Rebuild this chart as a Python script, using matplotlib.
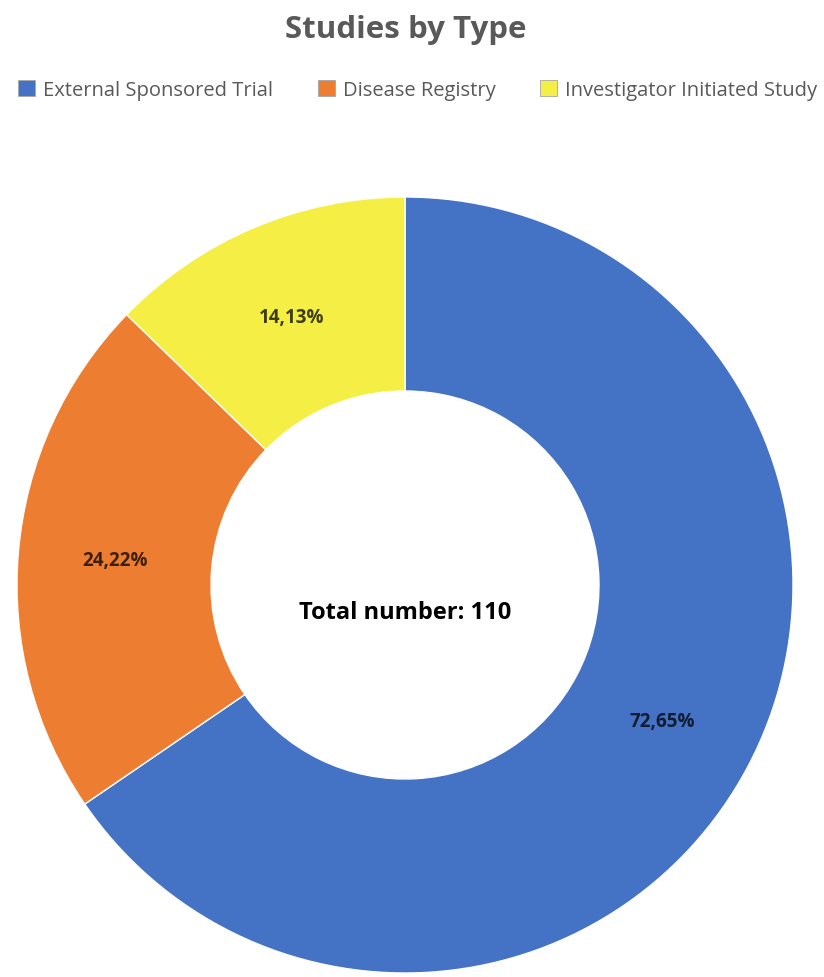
import matplotlib
matplotlib.use('Agg')
import matplotlib.pyplot as plt
from matplotlib.patches import Patch
import numpy as np

# data
categories = ['External Sponsored Trial', 'Disease Registry', 'Investigator Initiated Study']
values = [72.65, 24.22, 14.13]
labels = ['72,65%', '24,22%', '14,13%']
colors = ['#4472C4', '#ED7D31', '#F5EE45']
total_text = 'Total number: 110'

fig = plt.figure(figsize=(8.24, 9.78), dpi=100)

# pie axes: centre ~(405, 586) px, radius ~388 px
W, H = 824, 978
ax = fig.add_axes([17 / W, (H - 974) / H, 776 / W, 776 / H])

wedges, texts = ax.pie(values, colors=colors, startangle=90, counterclock=False,
                       radius=1, wedgeprops=dict(width=0.5, edgecolor='white', linewidth=1))
ax.set_xlim(-1, 1)
ax.set_ylim(-1, 1)
ax.set_aspect('equal')
ax.axis('off')

# percentage labels in the middle of the ring
for w, lab in zip(wedges, labels):
    ang = np.deg2rad((w.theta1 + w.theta2) / 2)
    ax.text(0.75 * np.cos(ang), 0.75 * np.sin(ang), lab, ha='center', va='center',
            fontsize=13.5, fontweight='bold', family='Open Sans', color='black', alpha=0.75)

ax.text(0, -0.07, total_text, ha='center', va='center', fontsize=17,
        fontweight='bold', family='Open Sans', color='black')

fig.text(0.492, 1 - 30 / H, 'Studies by Type', ha='center', va='center', fontsize=22.5,
         fontweight='bold', family='Open Sans', color='#595959')

handles = [Patch(facecolor=c, edgecolor='#a6a6a6', linewidth=0.6) for c in colors]
fig.legend(handles, categories, loc='center', bbox_to_anchor=(0.507, 1 - 91 / H), ncol=3,
           frameon=False, handlelength=0.85, handleheight=0.85, handletextpad=0.4,
           columnspacing=2.2, prop={'family': 'Open Sans', 'size': 14.5}, labelcolor='#595959')

fig.savefig('out.png', dpi=100, facecolor='white')
